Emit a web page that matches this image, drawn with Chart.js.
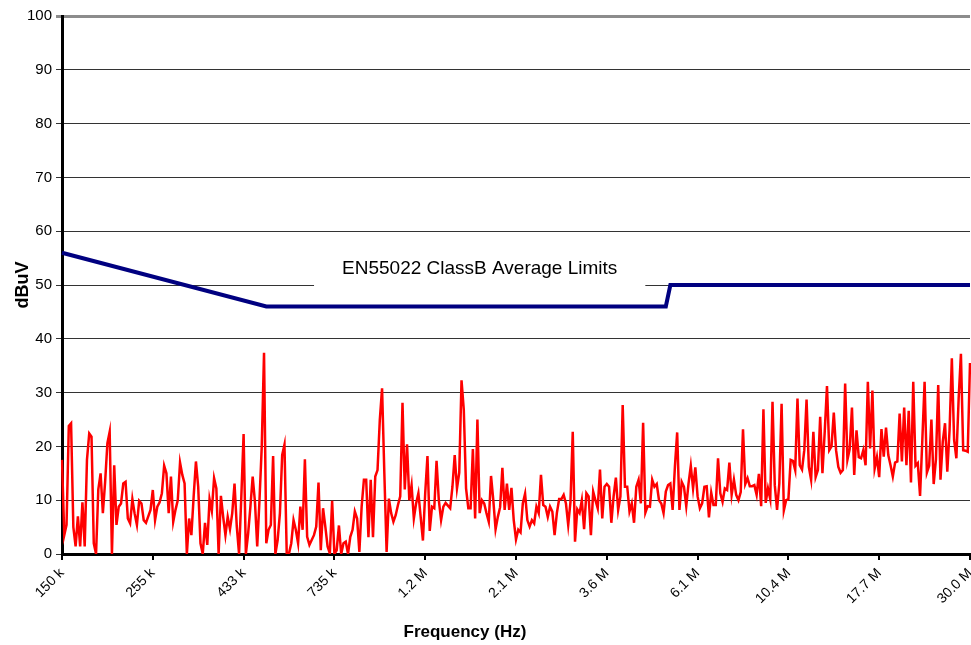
<!DOCTYPE html>
<html>
<head>
<meta charset="utf-8">
<script src="https://cdn.jsdelivr.net/npm/chart.js@4.4.1/dist/chart.umd.min.js"></script>
<style>
  body { margin: 0; background: #fff; }
  #wrap { width: 971px; height: 645px; }
</style>
</head>
<body>
<div id="wrap"><canvas id="emiChart" width="971" height="645"></canvas></div>
<script>
// =========================
// Data (dBuV, one value per sweep point, 401 points 150 kHz .. 30 MHz)
// =========================

const band150k = [17.5, 3.5, 5.4, 23.8, 24.3, 5, 1.4, 7, 1.4, 9.6, 1.4, 17.5, 22.4, 21.8, 2, 0, 12, 15, 7.6, 13.4,
    20.6, 22.7, 0, 16.5, 5.4, 8.8, 9.4, 13.1, 13.4, 6.6, 5.7, 10.2, 7.5, 5.4, 9.9, 9.4, 6.3, 5.8, 7.0, 8.2,
    11.9, 6.3, 8.8, 9.6, 11.3, 16.4, 15, 7.6, 14.4, 6, 8.2, 10, 17, 14.7, 13.1, 0, 6.6, 3.5, 10.7, 17.2,
    12.5, 2, 0, 5.8, 1.7, 10.2, 8, 14.1];

const band400k = [12.2, 0, 10.8, 6.9, 3.5, 6.9, 4.6, 7.6, 13.1, 5.1, 0, 10.7, 22.3, 0, 3.8, 8.8, 14.4, 9.7, 1.4, 10,
    20, 37.4, 2, 4.5, 5.4, 18.2, 0, 2.6, 7.6, 18.4, 20.3, 0, 0.1, 2, 6.3, 4.5, 2, 8.8, 4.5, 17.6,
    3.2, 1.7, 2.6, 3.5, 5.1, 13.3, 0.7, 8.5, 5.1, 1.4, 0.1, 9.9, 0, 0.7, 5.3, 0, 2, 2.3, 0, 3.2,
    4.5, 7.9, 6.6, 0.4, 8.8, 13.8, 13.8];

const band1M = [3.1, 13.8, 3.1, 14.4, 15.6, 24.9, 30.8, 15, 0.4, 10.3, 7.6, 6, 7.2, 9.1, 10.7, 28.1, 12, 20.4, 10, 12.8,
    6.6, 9.4, 11.3, 6.9, 2.5, 11.3, 18.2, 4.3, 8.8, 8.5, 17.3, 10, 6.3, 8.8, 9.5, 9.0, 8.5, 12.5, 18.4, 12.2,
    15.1, 32.3, 26.8, 12.2, 8.5, 8.5, 19.5, 6.6, 25, 7.6, 10, 9.4, 7.6, 6, 14.5, 10, 4.6, 6.9, 8.7, 16,
    8.2, 13.1, 8.2, 12.3, 6.3, 2.7, 4.5, 4, 9.4];

const band2_5M = [11.2, 6.3, 5.1, 6.3, 5.7, 8.8, 7.6, 14.7, 9.1, 8.8, 6.9, 8.8, 7.9, 3.5, 7.6, 10.2, 10.2, 11, 9.4, 5.4,
    9.7, 22.7, 2.3, 8.3, 7.6, 10, 4.6, 11.3, 10.7, 3.5, 11.6, 10, 8.5, 15.7, 6.6, 12.5, 13, 12.5, 5.8, 10.7,
    14.2, 8.2, 10.7, 27.7, 12.5, 12.5, 7.9, 9.4, 5.8, 12.5, 13.8, 9.4, 24.4, 7.7, 8.9, 8.8, 13.8, 12.5, 13, 10,
    9.4, 7.6, 11.6, 12.8, 13.1, 8.2, 16.2, 22.6];

const band6M = [8.2, 13.4, 12.5, 8.9, 13.1, 16.4, 12.2, 16.1, 10.7, 8.5, 9.4, 12.5, 12.6, 6.8, 11.4, 9.1, 9.1, 17.8, 11.3, 9.7,
    12.2, 11.9, 17, 11, 13.8, 11, 10, 11.5, 23.2, 13, 14.1, 12.6, 12.6, 12.8, 11, 14.9, 8.9, 26.9, 9.5, 12.2,
    10.2, 28.3, 12.8, 8.2, 13.1, 27.9, 8.1, 10, 10.2, 17.5, 17.3, 15.6, 28.9, 16.5, 15.7, 19.3, 28.7, 16.2, 13.8, 22.7,
    14.3, 15.6, 25.5, 15, 22.7, 31.2, 19.3, 20, 26.3];

const band15M = [19.3, 16.2, 15.1, 15.6, 31.7, 17.5, 19.5, 27.2, 14.7, 23, 18, 17.8, 19.3, 16.5, 32, 19.6, 30.4, 15.9, 18, 14.3,
    23.2, 18.1, 23.5, 18.4, 16.5, 14.4, 17, 17.2, 26.1, 17.2, 27.2, 16.5, 26.6, 13.3, 32, 16.4, 16.9, 10.8, 21.2, 32,
    15.1, 16.4, 25, 13, 17.6, 31.4, 13.8, 20.9, 24.3, 15.3, 23, 36.4, 21.2, 17.8, 28.9, 37.2, 19.3, 19.2, 19, 35.5];

const emission = [].concat(band150k, band400k, band1M, band2_5M, band6M, band15M);

// limit corners: [sweep point, dBuV]
const limitCorners = [[0, 56], [90, 46], [266, 46], [268, 50], [400, 50]];

// tick labels, one every 40 sweep points
const xTickLabels = ["150 k", "255 k", "433 k", "735 k", "1.2 M", "2.1 M",
    "3.6 M", "6.1 M", "10.4 M", "17.7 M", "30.0 M"];
const tickStep = 40;

const limitText = "EN55022 ClassB Average Limits";

// =========================
// Build datasets
// =========================

const categories = emission.map((v, i) => i);

const limitData = emission.map(() => null);
limitCorners.forEach(([i, v]) => { limitData[i] = v; });

const FONT = '"Liberation Sans", Arial, sans-serif';

// white box + text for the limit name, and the x axis title
const annotations = {
    id: "annotations",
    beforeDatasetsDraw(chart) {
        const { ctx, scales: { x, y } } = chart;
        const cx = x.getPixelForValue(184);
        ctx.save();
        ctx.font = "19px " + FONT;
        const w = ctx.measureText(limitText).width;
        const top = y.getPixelForValue(57);
        const bottom = y.getPixelForValue(48.5);
        ctx.fillStyle = "#fff";
        ctx.fillRect(cx - w / 2 - 28, top, w + 56, bottom - top);
        ctx.fillStyle = "#000";
        ctx.textAlign = "center";
        ctx.textBaseline = "middle";
        ctx.fillText(limitText, cx, y.getPixelForValue(53));
        ctx.restore();
    },
    afterDraw(chart) {
        const { ctx, scales: { x } } = chart;
        ctx.save();
        ctx.font = "bold 17px " + FONT;
        ctx.fillStyle = "#000";
        ctx.textAlign = "center";
        ctx.textBaseline = "middle";
        ctx.fillText("Frequency (Hz)", x.getPixelForValue(177.5), chart.height - 13);
        ctx.restore();
    }
};

const chart = new Chart(document.getElementById("emiChart"), {
    type: "line",
    data: {
        labels: categories,
        datasets: [{
            label: "Emission",
            data: emission,
            borderColor: "#ff0000",
            borderWidth: 2.5,
            pointRadius: 0,
            tension: 0,
            order: 2
        }, {
            label: "Limit",
            data: limitData,
            borderColor: "#000080",
            borderWidth: 4,
            pointRadius: 0,
            tension: 0,
            spanGaps: true,
            order: 1
        }]
    },
    options: {
        responsive: false,
        animation: false,
        layout: { padding: { top: 16, right: 1, left: 0, bottom: 0 } },
        plugins: {
            legend: { display: false },
            tooltip: { enabled: false }
        },
        scales: {
            x: {
                type: "category",
                offset: false,
                border: { display: true, color: "#000", width: 3 },
                grid: {
                    drawOnChartArea: false,
                    drawTicks: true,
                    tickLength: 6,
                    color: "#000",
                    lineWidth: 2
                },
                ticks: {
                    autoSkip: false,
                    minRotation: 45,
                    maxRotation: 45,
                    padding: 5,
                    color: "#000",
                    font: { family: FONT, size: 14 },
                    callback: (val, i) => (i % tickStep === 0 ? xTickLabels[i / tickStep] : null)
                },
                afterFit: s => {
                    s.height = 91;
                    s.paddingLeft = 0;
                    s.paddingRight = 0;
                }
            },
            y: {
                min: 0,
                max: 100,
                border: { display: true, color: "#000", width: 3 },
                grid: {
                    drawTicks: true,
                    tickLength: 6,
                    color: c => (c.tick && c.tick.value === 100 ? "#8c8c8c" : "#333"),
                    lineWidth: c => (c.tick && c.tick.value === 100 ? 3 : 1)
                },
                ticks: {
                    stepSize: 10,
                    padding: 4,
                    color: "#000",
                    font: { family: FONT, size: 15 }
                },
                title: {
                    display: true,
                    text: "dBuV",
                    color: "#000",
                    font: { family: FONT, size: 18, weight: "bold" },
                    padding: { top: 12, bottom: 0 }
                },
                afterFit: s => { s.width = 62; }
            }
        }
    },
    plugins: [annotations]
});
</script>
</body>
</html>
